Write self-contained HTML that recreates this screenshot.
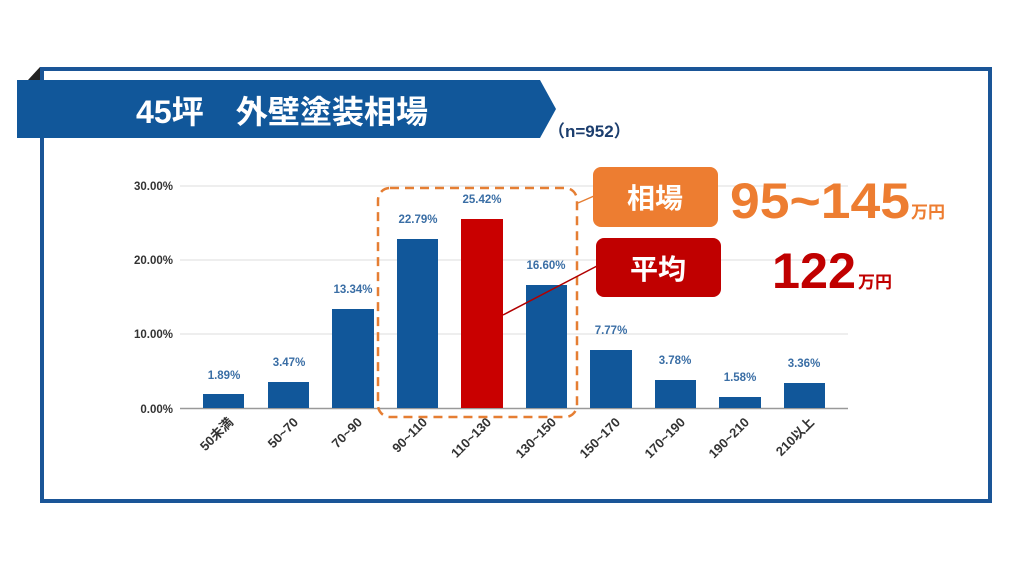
<!DOCTYPE html>
<html><head><meta charset="utf-8"><style>
body{margin:0;background:#fff;}
svg{display:block;font-family:"Liberation Sans","Noto Sans CJK JP",sans-serif;}
</style></head><body>
<svg width="1024" height="576" viewBox="0 0 1024 576" xmlns="http://www.w3.org/2000/svg">
<rect x="0" y="0" width="1024" height="576" fill="#fff"/>
<rect x="42" y="69" width="948" height="432" fill="none" stroke="#1A5597" stroke-width="4"/>
<polygon points="28,80 40,67 40,80" fill="#222"/>
<polygon points="17,80 540,80 556,109 540,138 17,138" fill="#11579A"/>
<text x="136" y="123" font-size="32" font-weight="bold" fill="#fff" textLength="292" lengthAdjust="spacingAndGlyphs">45坪　外壁塗装相場</text>
<text x="548" y="137" font-size="17" font-weight="bold" fill="#1C3E6E">（n=952）</text>
<g stroke="#dcdcdc" stroke-width="1">
<line x1="180" y1="186" x2="848" y2="186"/><line x1="180" y1="260" x2="848" y2="260"/><line x1="180" y1="334" x2="848" y2="334"/>
</g>
<line x1="180" y1="408.5" x2="848" y2="408.5" stroke="#999" stroke-width="1.5"/>
<g font-size="11.5" font-weight="bold" fill="#333" text-anchor="end">
<text x="173" y="190">30.00%</text><text x="173" y="264">20.00%</text><text x="173" y="338">10.00%</text><text x="173" y="413">0.00%</text>
</g>
<g fill="#11579A">
<rect x="203" y="394" width="41" height="14"/>
<rect x="268" y="382" width="41" height="26"/>
<rect x="332" y="309" width="42" height="99"/>
<rect x="397" y="239" width="41" height="169"/>
<rect x="461" y="219" width="42" height="189" fill="#C90000"/>
<rect x="526" y="285" width="41" height="123"/>
<rect x="590" y="350" width="42" height="58"/>
<rect x="655" y="380" width="41" height="28"/>
<rect x="719" y="397" width="42" height="11"/>
<rect x="784" y="383" width="41" height="25"/>
</g>
<g font-size="11.5" font-weight="bold" fill="#3A6EA5" text-anchor="middle">
<text x="224" y="379">1.89%</text><text x="289" y="366">3.47%</text><text x="353" y="293">13.34%</text>
<text x="418" y="223">22.79%</text><text x="482" y="203">25.42%</text><text x="546" y="269">16.60%</text>
<text x="611" y="334">7.77%</text><text x="675" y="364">3.78%</text><text x="740" y="381">1.58%</text><text x="804" y="367">3.36%</text>
</g>
<g font-size="13" font-weight="bold" fill="#333" text-anchor="end">
<text transform="translate(234,423) rotate(-45)">50未満</text>
<text transform="translate(299,423) rotate(-45)">50~70</text>
<text transform="translate(363,423) rotate(-45)">70~90</text>
<text transform="translate(428,423) rotate(-45)">90~110</text>
<text transform="translate(492,423) rotate(-45)">110~130</text>
<text transform="translate(557,423) rotate(-45)">130~150</text>
<text transform="translate(621,423) rotate(-45)">150~170</text>
<text transform="translate(686,423) rotate(-45)">170~190</text>
<text transform="translate(750,423) rotate(-45)">190~210</text>
<text transform="translate(815,423) rotate(-45)">210以上</text>
</g>
<rect x="378" y="188" width="199" height="229" rx="12" fill="none" stroke="#E57E33" stroke-width="2.5" stroke-dasharray="9,6"/>
<line x1="578" y1="203" x2="594" y2="196" stroke="#E57E33" stroke-width="1.5"/>
<line x1="503" y1="315" x2="597" y2="266" stroke="#B00000" stroke-width="1.5"/>
<rect x="593" y="167" width="125" height="60" rx="8" fill="#ED7D31"/>
<text x="655" y="208" font-size="28" font-weight="bold" fill="#fff" text-anchor="middle">相場</text>
<rect x="596" y="238" width="125" height="59" rx="8" fill="#C00000"/>
<text x="658" y="279" font-size="28" font-weight="bold" fill="#fff" text-anchor="middle">平均</text>
<text x="730" y="218" font-size="50" font-weight="bold" fill="#ED7D31" textLength="180" lengthAdjust="spacingAndGlyphs">95~145</text>
<text x="911" y="218" font-size="17" font-weight="bold" fill="#ED7D31">万円</text>
<text x="772" y="288" font-size="50" font-weight="bold" fill="#C00000" textLength="84" lengthAdjust="spacingAndGlyphs">122</text>
<text x="858" y="288" font-size="17" font-weight="bold" fill="#C00000">万円</text>
</svg>
</body></html>
